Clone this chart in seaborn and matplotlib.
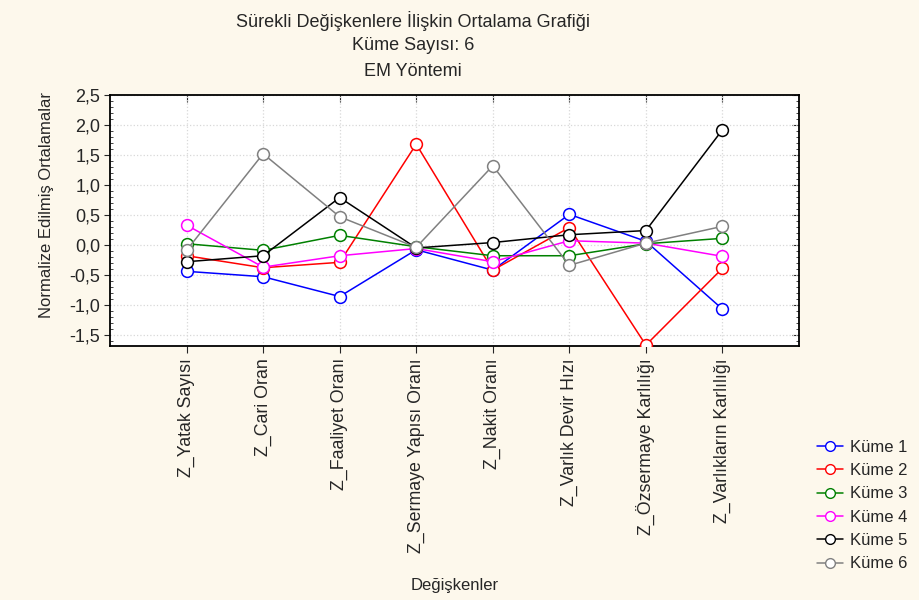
import matplotlib
matplotlib.use("Agg")
import matplotlib.pyplot as plt
import seaborn as sns
import pandas as pd
from matplotlib.lines import Line2D
from matplotlib.ticker import MultipleLocator, FuncFormatter, NullFormatter

categories = ["Z_Yatak Sayısı", "Z_Cari Oran", "Z_Faaliyet Oranı", "Z_Sermaye Yapısı Oranı",
              "Z_Nakit Oranı", "Z_Varlık Devir Hızı", "Z_Özsermaye Karlılığı", "Z_Varlıkların Karlılığı"]
kume1 = [-0.44, -0.53, -0.86, -0.08, -0.42, 0.51, 0.06, -1.07]
kume2 = [-0.18, -0.38, -0.29, 1.68, -0.42, 0.29, -1.67, -0.39]
kume3 = [0.02, -0.09, 0.16, -0.03, -0.18, -0.18, 0.02, 0.11]
kume4 = [0.33, -0.37, -0.18, -0.06, -0.28, 0.07, 0.03, -0.19]
kume5 = [-0.28, -0.18, 0.79, -0.05, 0.04, 0.17, 0.24, 1.92]
kume6 = [-0.09, 1.52, 0.47, -0.04, 1.32, -0.34, 0.03, 0.31]
series_names = ["Küme 1", "Küme 2", "Küme 3", "Küme 4", "Küme 5", "Küme 6"]
series_values = [kume1, kume2, kume3, kume4, kume5, kume6]
colors = ["#0000FF", "#FF0000", "#008000", "#FF00FF", "#000000", "#808080"]

rows = []
for name, vals in zip(series_names, series_values):
    for i, (c, v) in enumerate(zip(categories, vals)):
        rows.append({"Küme": name, "pos": i, "Değişken": c, "Değer": v})
df = pd.DataFrame(rows)

sns.set_style("white")
plt.rcParams['font.family'] = ['Liberation Sans', 'DejaVu Sans']

bg = "#FDF8EC"
fig = plt.figure(figsize=(9.2, 6.0), dpi=100, facecolor=bg)
ax = fig.add_axes([110/920, 1-345.7/600, (799-110)/920, (345.7-95)/600])
ax.set_facecolor("white")

for name, col in zip(series_names, colors):
    sub = df[df["Küme"] == name]
    sns.lineplot(data=sub, x="pos", y="Değer", ax=ax, color=col, lw=1.1,
                 marker="o", markersize=8.5, markerfacecolor="white",
                 markeredgecolor=col, markeredgewidth=1.1, legend=False, zorder=3)

ax.set_xlim(-1, 8)
ax.set_ylim(-1.68, 2.5)
ax.set_xticks(range(len(categories)))
ax.set_xticklabels(categories, rotation=90, fontsize=12.8)
ax.yaxis.set_major_locator(MultipleLocator(0.5))
ax.yaxis.set_minor_locator(MultipleLocator(0.1))
ax.yaxis.set_major_formatter(FuncFormatter(lambda v, p: f"{v:.1f}".replace(".", ",")))
ax.tick_params(axis="y", which="major", direction="out", length=4, labelsize=13,
               left=True, right=False, pad=3)
ax.tick_params(axis="y", which="minor", direction="in", length=2, left=True, right=False)
ax.tick_params(axis="x", which="major", direction="out", length=5, top=False, bottom=True, pad=4)

# inward ticks on the top and right spines
sec_x = ax.secondary_xaxis("top")
sec_x.set_xticks(range(len(categories)))
sec_x.tick_params(direction="in", length=5, labeltop=False)
sec_x.xaxis.set_major_formatter(NullFormatter())
sec_y = ax.secondary_yaxis("right")
sec_y.yaxis.set_major_locator(MultipleLocator(0.5))
sec_y.yaxis.set_minor_locator(MultipleLocator(0.1))
sec_y.yaxis.set_major_formatter(NullFormatter())
sec_y.tick_params(which="major", direction="in", length=5)
sec_y.tick_params(which="minor", direction="in", length=2.5)
for s in list(sec_x.spines.values()) + list(sec_y.spines.values()):
    s.set_visible(False)

for s in ax.spines.values():
    s.set_color("black")
    s.set_linewidth(1.3)
ax.grid(True, which="major", color="#D8D8D8", linestyle=":", linewidth=0.9)
ax.set_axisbelow(True)

ax.set_xlabel("Değişkenler", fontsize=12)
ax.xaxis.set_label_coords(0.5, -0.925)
ax.set_ylabel("Normalize Edilmiş Ortalamalar", fontsize=12)
ax.yaxis.set_label_coords(-0.081, 0.561)

fig.text(413/920, 1-21/600, "Sürekli Değişkenlere İlişkin Ortalama Grafiği", ha="center", va="center", fontsize=13)
fig.text(413/920, 1-46/600, "Küme Sayısı: 6", ha="center", va="center", fontsize=13)
fig.text(413/920, 1-71/600, "EM Yöntemi", ha="center", va="center", fontsize=13)

handles = [Line2D([0], [0], color=c, lw=1.1, marker="o", markersize=7,
                  markerfacecolor="white", markeredgecolor=c) for c in colors]
fig.legend(handles, series_names, loc="upper left", bbox_to_anchor=(810/920, 1-433/600),
           frameon=False, fontsize=12, handlelength=1.6, labelspacing=0.5,
           handletextpad=0.4, borderaxespad=0)

fig.savefig("out.png", dpi=100, facecolor=bg)
